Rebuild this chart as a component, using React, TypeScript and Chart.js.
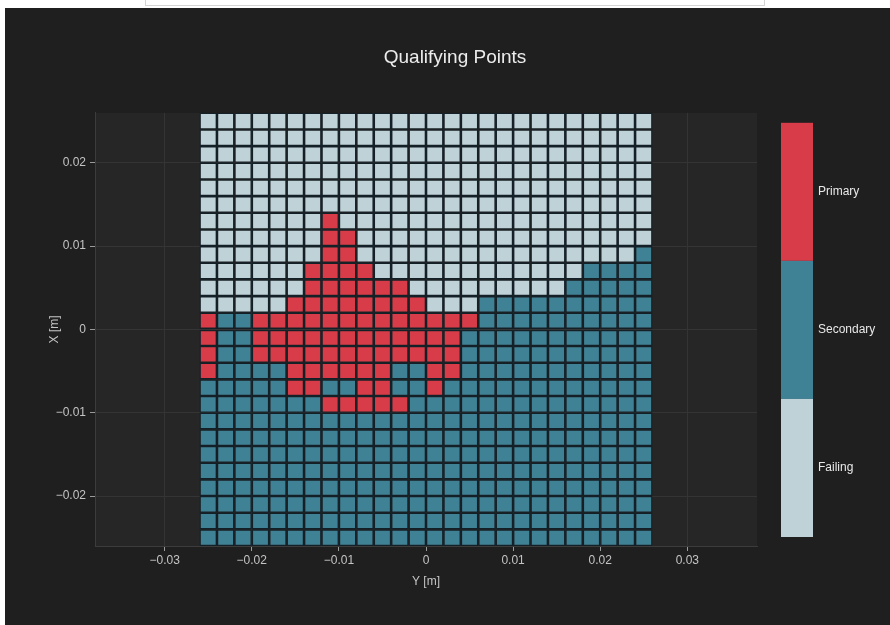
import React, { useEffect, useRef } from 'react';
import { Chart, registerables } from 'chart.js';

Chart.register(...registerables);

// ---------- data ----------
const chartTitle = 'Qualifying Points';
const xAxisTitle = 'Y [m]';
const yAxisTitle = 'X [m]';

const categoryNames = ['Failing', 'Secondary', 'Primary'];
const categoryColors = ['#bed2d8', '#3f8195', '#d93c49'];
const colorbarOrder = [2, 1, 0]; // top to bottom

// cell centres (metres)
const xCenters = [
  -0.025, -0.023, -0.021, -0.019, -0.017, -0.015, -0.013, -0.011, -0.009, -0.007, -0.005, -0.003, -0.001,
  0.001, 0.003, 0.005, 0.007, 0.009, 0.011, 0.013, 0.015, 0.017, 0.019, 0.021, 0.023, 0.025,
];
const yCenters = [
  0.025, 0.023, 0.021, 0.019, 0.017, 0.015, 0.013, 0.011, 0.009, 0.007, 0.005, 0.003, 0.001,
  -0.001, -0.003, -0.005, -0.007, -0.009, -0.011, -0.013, -0.015, -0.017, -0.019, -0.021, -0.023, -0.025,
];
const cellSize = 0.002;

// one string per row (top to bottom), one digit per column: 0 Failing, 1 Secondary, 2 Primary
const categoryRows = [
  '00000000000000000000000000',
  '00000000000000000000000000',
  '00000000000000000000000000',
  '00000000000000000000000000',
  '00000000000000000000000000',
  '00000000000000000000000000',
  '00000002000000000000000000',
  '00000002200000000000000000',
  '00000002200000000000000001',
  '00000022220000000000001111',
  '00000022222200000000011111',
  '00000222222220001111111111',
  '21122222222222221111111111',
  '21122222222222211111111111',
  '21122222222222211111111111',
  '21111222222112211111111111',
  '11111221122112111111111111',
  '11111112222211111111111111',
  '11111111111111111111111111',
  '11111111111111111111111111',
  '11111111111111111111111111',
  '11111111111111111111111111',
  '11111111111111111111111111',
  '11111111111111111111111111',
  '11111111111111111111111111',
  '11111111111111111111111111',
];

const xTickValues = [-0.03, -0.02, -0.01, 0, 0.01, 0.02, 0.03];
const yTickValues = [-0.02, -0.01, 0, 0.01, 0.02];
const xRange = [-0.038, 0.038];
const yRange = [-0.026, 0.026];

// ---------- styling ----------
const FONT = '"Liberation Sans", Arial, Helvetica, sans-serif';
const PANEL_BG = '#1f1f1f';
const PLOT_BG = '#262626';
const GRID = '#343434';
const TEXT = '#c4c4c4';

const fmtTick = (v: number) => (v < 0 ? '\u2212' : '') + String(Math.abs(v));

function buildDatasets() {
  return categoryNames.map((name, k) => {
    const data: { x: number; y: [number, number] }[] = [];
    categoryRows.forEach((row, r) => {
      for (let c = 0; c < row.length; c++) {
        if (Number(row[c]) === k) {
          data.push({ x: xCenters[c], y: [yCenters[r] - cellSize / 2, yCenters[r] + cellSize / 2] });
        }
      }
    });
    return {
      label: name,
      data,
      backgroundColor: categoryColors[k],
      borderColor: '#142027',
      borderWidth: 1.3,
      borderSkipped: false,
      grouped: false,
      barPercentage: 1,
      categoryPercentage: 1,
      inflateAmount: 0,
      xAxisID: 'x',
      yAxisID: 'y',
    };
  });
}

const panelPlugin = {
  id: 'panelPlugin',
  beforeDraw(chart: any) {
    const { ctx, chartArea: a } = chart;
    ctx.save();
    ctx.fillStyle = PANEL_BG;
    ctx.fillRect(0, 0, chart.width, chart.height);
    ctx.fillStyle = PLOT_BG;
    ctx.fillRect(a.left, a.top, a.right - a.left, a.bottom - a.top);
    ctx.restore();
  },
  afterDraw(chart: any) {
    const { ctx, chartArea: a } = chart;
    const x0 = a.right + 24;
    const w = 32;
    const top = a.top + 10;
    const bottom = a.bottom - 9;
    const seg = (bottom - top) / colorbarOrder.length;
    ctx.save();
    colorbarOrder.forEach((k, i) => {
      ctx.fillStyle = categoryColors[k];
      ctx.fillRect(x0, top + i * seg, w, seg);
    });
    ctx.fillStyle = '#e8e8e8';
    ctx.font = `12px ${FONT}`;
    ctx.textBaseline = 'middle';
    ctx.textAlign = 'left';
    colorbarOrder.forEach((k, i) => {
      ctx.fillText(categoryNames[k], x0 + w + 5, top + i * seg + seg / 2);
    });
    ctx.restore();
  },
};

export default function App() {
  const canvasRef = useRef<HTMLCanvasElement | null>(null);

  useEffect(() => {
    if (!canvasRef.current) return;
    const chart = new Chart(canvasRef.current, {
      type: 'bar',
      data: { datasets: buildDatasets() as any },
      options: {
        animation: false,
        responsive: false,
        events: [],
        layout: { padding: { left: 15, right: 0, top: 0, bottom: 0 } },
        plugins: {
          legend: { display: false },
          tooltip: { enabled: false },
          title: {
            display: true,
            text: chartTitle,
            color: '#ececec',
            font: { size: 19, family: FONT, weight: 'normal' },
            padding: { top: 38, bottom: 44 },
          },
        },
        scales: {
          x: {
            type: 'linear',
            min: xRange[0],
            max: xRange[1],
            offset: false,
            afterBuildTicks: (s: any) => {
              s.ticks = xTickValues.map((v) => ({ value: v }));
            },
            afterFit: (s: any) => {
              s.height = 79;
            },
            grid: { color: GRID, lineWidth: 1, offset: false, drawTicks: true, tickLength: 5, tickColor: '#9a9a9a', tickWidth: 1 },
            border: { display: true, color: '#3c3c3c' },
            ticks: {
              color: TEXT,
              font: { size: 12, family: FONT },
              padding: 2,
              maxRotation: 0,
              autoSkip: false,
              callback: (v: any) => fmtTick(Number(v)),
            },
            title: {
              display: true,
              text: xAxisTitle,
              color: TEXT,
              font: { size: 12, family: FONT },
              padding: { top: 4, bottom: 36 },
            },
          },
          y: {
            type: 'linear',
            position: 'left',
            min: yRange[0],
            max: yRange[1],
            afterBuildTicks: (s: any) => {
              s.ticks = yTickValues.map((v) => ({ value: v }));
            },
            afterFit: (s: any) => {
              s.width = 75;
            },
            grid: { color: GRID, lineWidth: 1, drawTicks: true, tickLength: 5, tickColor: '#9a9a9a', tickWidth: 1 },
            border: { display: true, color: '#3c3c3c' },
            ticks: {
              color: TEXT,
              font: { size: 12, family: FONT },
              padding: 4,
              autoSkip: false,
              callback: (v: any) => fmtTick(Number(v)),
            },
            title: {
              display: true,
              text: yAxisTitle,
              color: TEXT,
              font: { size: 12, family: FONT },
              padding: { top: 27, bottom: 0 },
            },
          },
          cb: {
            type: 'linear',
            position: 'right',
            display: true,
            grid: { display: false },
            border: { display: false },
            ticks: { display: false },
            afterFit: (s: any) => {
              s.width = 133;
            },
          },
        },
      } as any,
      plugins: [panelPlugin],
    });
    return () => chart.destroy();
  }, []);

  return (
    <>
      <div
        style={{
          position: 'absolute',
          left: 145,
          top: 0,
          width: 618,
          height: 5,
          borderLeft: '1px solid #d4d4d4',
          borderRight: '1px solid #d4d4d4',
          borderBottom: '1px solid #d4d4d4',
        }}
      />
      <div style={{ position: 'absolute', left: 5, top: 8, width: 885, height: 617, background: PANEL_BG }}>
        <canvas ref={canvasRef} width={885} height={617} style={{ display: 'block' }} />
      </div>
    </>
  );
}
